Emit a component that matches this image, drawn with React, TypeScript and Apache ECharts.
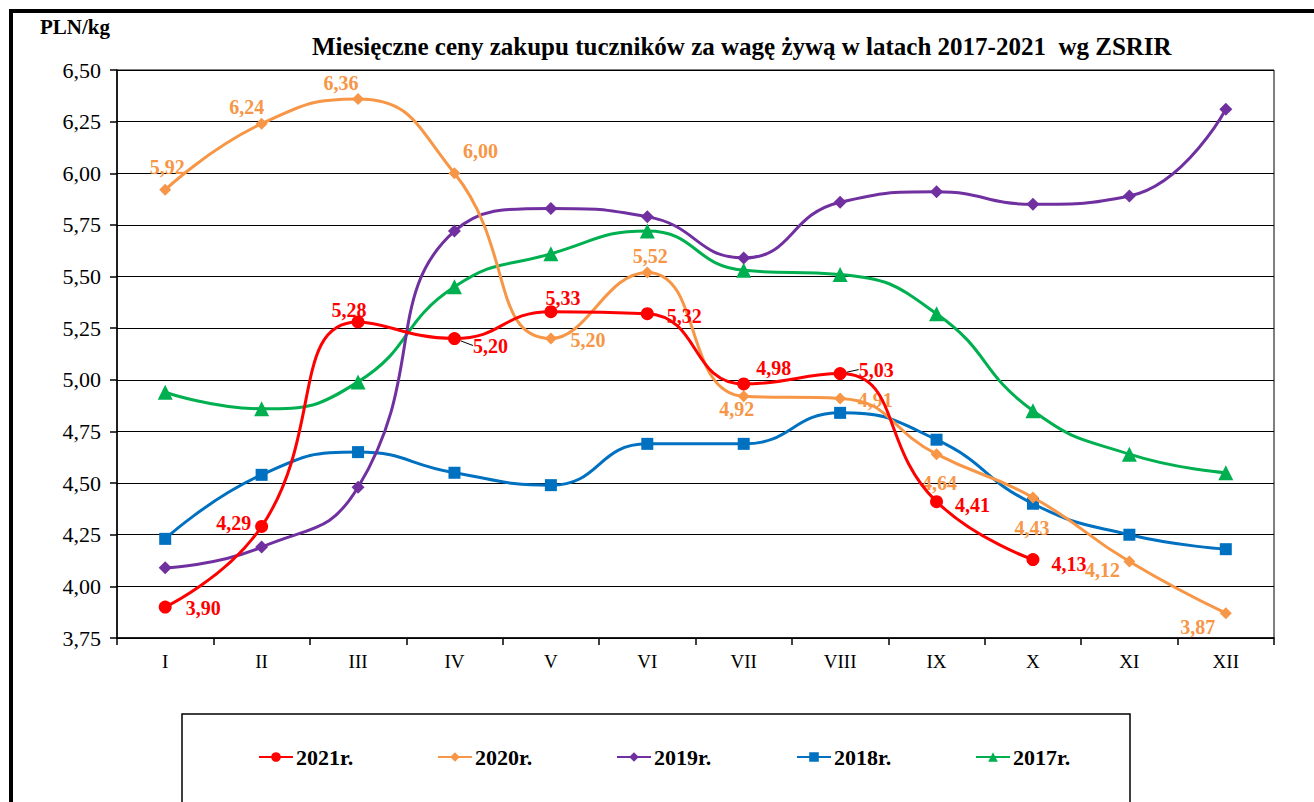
import React, { useEffect, useRef } from "react";
import * as echarts from "echarts";

const months = ["I", "II", "III", "IV", "V", "VI", "VII", "VIII", "IX", "X", "XI", "XII"];
const yTicks = { min: 3.75, max: 6.5, interval: 0.25 };

const v2021 = [3.9, 4.29, 5.28, 5.2, 5.33, 5.32, 4.98, 5.03, 4.41, 4.13];
const v2020 = [5.92, 6.24, 6.36, 6.0, 5.2, 5.52, 4.92, 4.91, 4.64, 4.43, 4.12, 3.87];
const v2019 = [4.09, 4.19, 4.48, 5.72, 5.83, 5.79, 5.59, 5.86, 5.91, 5.85, 5.89, 6.31];
const v2018 = [4.23, 4.54, 4.65, 4.55, 4.49, 4.69, 4.69, 4.84, 4.71, 4.4, 4.25, 4.18];
const v2017 = [4.94, 4.86, 4.99, 5.45, 5.61, 5.72, 5.53, 5.51, 5.32, 4.85, 4.64, 4.55];

const legendNames = ["2021r.", "2020r.", "2019r.", "2018r.", "2017r."];
const legendLeft = [258, 437, 616, 796, 975];

// label offsets (label centre relative to point)
const off2021 = [[38, 1], [-28, -3], [-9, -12], [36, 7], [12, -14], [37, 2], [30, -16], [36, -4], [36, 3], [36, 4]];
const off2020 = [[2, -23], [-15, -17], [-17, -16], [26, -22], [37, 1], [3, -16], [-7, 13], [35, 2], [3, 29], [-1, 30], [-27, 8], [-28, 14]];
const leader2021 = [3, 7];

const FONT = "Liberation Serif";

const fmt = (v: number) => v.toFixed(2).replace(".", ",");

function labelled(values: number[], offs: number[][], color: string, leaders: number[] = []) {
  return values.map((v, i) => ({
    value: v,
    label: {
      show: true,
      position: "inside",
      offset: offs[i],
      align: "center",
      verticalAlign: "middle",
      color,
      fontFamily: FONT,
      fontWeight: "bold",
      fontSize: 20,
      formatter: () => fmt(v),
    },
    labelLine: { show: leaders.includes(i), lineStyle: { color: "#000", width: 1 } },
  }));
}

export default function App() {
  const ref = useRef<HTMLDivElement>(null);
  useEffect(() => {
    if (!ref.current) return;
    const chart = echarts.init(ref.current, undefined, { renderer: "svg" });
    const common = { type: "line", smooth: 0.5, lineStyle: { width: 3 }, z: 2 };
    chart.setOption({
      animation: false,
      backgroundColor: "#fff",
      textStyle: { fontFamily: FONT },
      title: {
        text: "Miesięczne ceny zakupu tuczników za wagę żywą w latach 2017-2021  wg ZSRIR",
        left: 307,
        top: 29,
        textStyle: { fontFamily: FONT, fontWeight: "bold", fontSize: 25, color: "#000" },
      },
      graphic: [
        { type: "rect", shape: { x: 11, y: 11, width: 1320, height: 800 }, style: { fill: "none", stroke: "#000", lineWidth: 4 }, silent: true },
        { type: "rect", shape: { x: 182, y: 714, width: 948, height: 100 }, style: { fill: "none", stroke: "#000", lineWidth: 1.5 }, silent: true },
        { type: "text", left: 40, top: 16, style: { text: "PLN/kg", fontFamily: FONT, fontWeight: "bold", fontSize: 21, fill: "#000" } },
      ],
      legend: legendNames.map((n, i) => ({
        data: [n],
        left: legendLeft[i],
        top: 746,
        padding: 0,
        itemWidth: 34,
        itemHeight: 12,
        textStyle: { fontFamily: FONT, fontWeight: "bold", fontSize: 22, color: "#000", padding: [0, 0, 0, -2] },
      })),
      grid: { left: 117, top: 70, right: 40, bottom: 164, show: true, borderColor: "#000", borderWidth: 1 },
      xAxis: {
        type: "category",
        data: months,
        boundaryGap: true,
        axisLine: { lineStyle: { color: "#000", width: 1.5 } },
        axisTick: { show: true, length: 7, lineStyle: { color: "#000", width: 1.5 } },
        axisLabel: { color: "#000", fontFamily: FONT, fontSize: 19, margin: 14 },
      },
      yAxis: {
        type: "value",
        min: yTicks.min,
        max: yTicks.max,
        interval: yTicks.interval,
        axisLine: { show: true, lineStyle: { color: "#000", width: 1.5 } },
        axisTick: { show: true, length: 7, lineStyle: { color: "#000", width: 1.5 } },
        axisLabel: { color: "#000", fontFamily: FONT, fontSize: 22, margin: 16, formatter: (v: number) => fmt(v) },
        splitLine: { lineStyle: { color: "#000", width: 1 } },
      },
      series: [
        { ...common, name: "2017r.", data: v2017, color: "#00B050", symbol: "triangle", symbolSize: 15 },
        { ...common, name: "2018r.", data: v2018, color: "#0070C0", symbol: "rect", symbolSize: 12 },
        { ...common, name: "2019r.", data: v2019, color: "#7030A0", symbol: "diamond", symbolSize: 13 },
        { ...common, name: "2020r.", data: labelled(v2020, off2020, "#F79646"), color: "#F79646", symbol: "diamond", symbolSize: 12, z: 3 },
        { ...common, name: "2021r.", data: labelled(v2021, off2021, "#FF0000", leader2021), color: "#FF0000", symbol: "circle", symbolSize: 13, z: 4 },
      ],
    });
    return () => chart.dispose();
  }, []);
  return <div ref={ref} style={{ position: "fixed", left: 0, top: 0, width: 1314, height: 802 }} />;
}
